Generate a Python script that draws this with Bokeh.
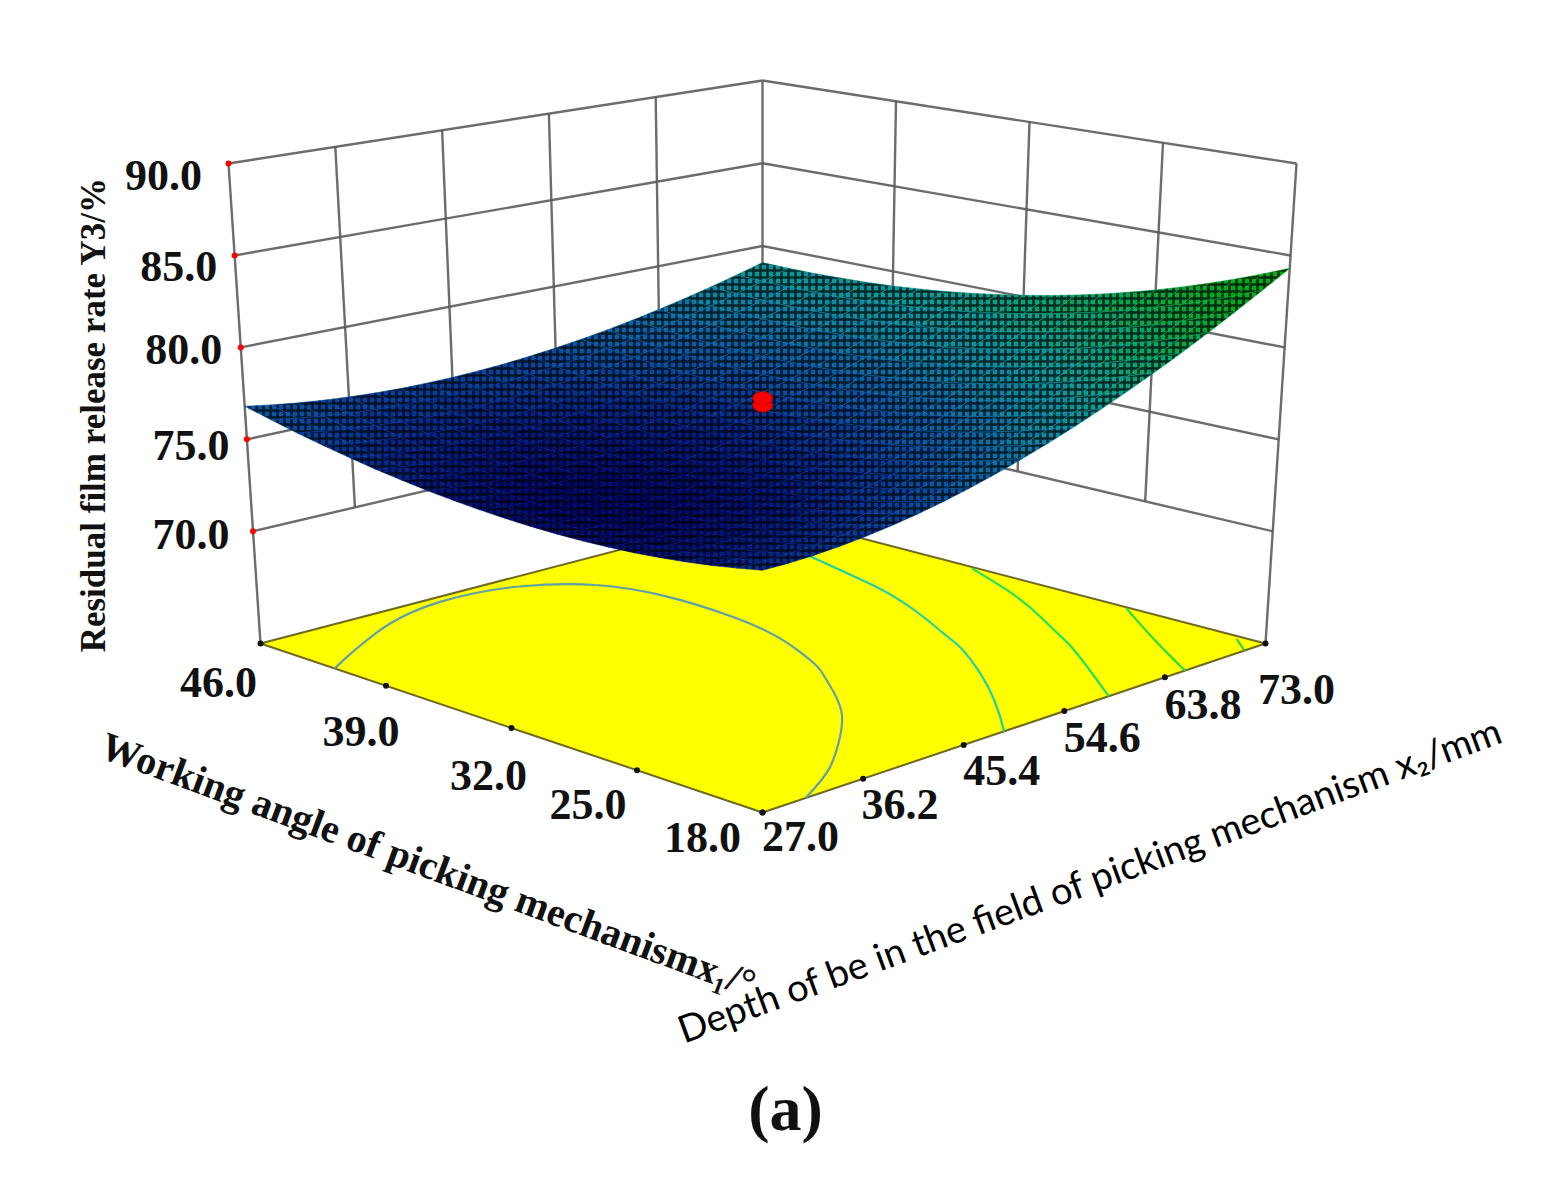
import numpy as np
from bokeh.core.properties import value
from bokeh.embed import file_html
from bokeh.models import ColumnDataSource, LinearColorMapper
from bokeh.plotting import figure
from bokeh.resources import INLINE

# ---- data ----
x1_ticks = [18.0, 25.0, 32.0, 39.0, 46.0]
x2_ticks = [27.0, 36.2, 45.4, 54.6, 63.8, 73.0]
z_ticks = [70.0, 75.0, 80.0, 85.0, 90.0]
x1_tick_labels = ["18.0", "25.0", "32.0", "39.0", "46.0"]
x2_tick_labels = ["27.0", "36.2", "45.4", "54.6", "63.8", "73.0"]
z_tick_labels = ["70.0", "75.0", "80.0", "85.0", "90.0"]
z_floor = 63.9

x1_grid = [18.0, 19.4, 20.8, 22.2, 23.6, 25.0, 26.4, 27.8, 29.2, 30.6, 32.0,
           33.4, 34.8, 36.2, 37.6, 39.0, 40.4, 41.8, 43.2, 44.6, 46.0]
x2_grid = [27.0, 29.3, 31.6, 33.9, 36.2, 38.5, 40.8, 43.1, 45.4, 47.7, 50.0,
           52.3, 54.6, 56.9, 59.2, 61.5, 63.8, 66.1, 68.4, 70.7, 73.0]

y3_row_00 = [75.50,75.50,75.55,75.65,75.79,75.98,76.21,76.49,76.82,77.19,77.61,78.07,78.58,79.14,79.74,80.38,81.07,81.81,82.60,83.43,84.30]
y3_row_01 = [75.27,75.25,75.29,75.37,75.49,75.67,75.88,76.15,76.45,76.81,77.21,77.66,78.15,78.69,79.27,79.90,80.58,81.30,82.07,82.88,83.74]
y3_row_02 = [75.06,75.04,75.05,75.12,75.23,75.38,75.58,75.83,76.13,76.46,76.85,77.28,77.75,78.27,78.84,79.45,80.11,80.82,81.57,82.36,83.20]
y3_row_03 = [74.89,74.85,74.85,74.90,74.99,75.13,75.32,75.55,75.82,76.15,76.51,76.93,77.39,77.89,78.44,79.04,79.68,80.37,81.10,81.88,82.70]
y3_row_04 = [74.75,74.69,74.68,74.72,74.79,74.92,75.09,75.30,75.56,75.87,76.22,76.62,77.06,77.55,78.08,78.66,79.28,79.95,80.67,81.43,82.23]
y3_row_05 = [74.64,74.57,74.55,74.56,74.63,74.74,74.89,75.09,75.33,75.62,75.96,76.34,76.76,77.23,77.75,78.31,78.91,79.56,80.26,81.00,81.79]
y3_row_06 = [74.57,74.48,74.44,74.45,74.50,74.59,74.73,74.91,75.14,75.42,75.74,76.10,76.51,76.96,77.46,78.00,78.59,79.22,79.90,80.62,81.39]
y3_row_07 = [74.52,74.42,74.37,74.36,74.40,74.48,74.60,74.77,74.98,75.24,75.54,75.89,76.28,76.72,77.20,77.72,78.29,78.91,79.56,80.27,81.01]
y3_row_08 = [74.51,74.40,74.33,74.31,74.33,74.39,74.50,74.66,74.85,75.10,75.38,75.71,76.09,76.51,76.97,77.48,78.03,78.62,79.26,79.95,80.67]
y3_row_09 = [74.53,74.40,74.32,74.29,74.29,74.35,74.44,74.58,74.76,74.99,75.26,75.57,75.93,76.33,76.77,77.26,77.79,78.37,78.99,79.65,80.36]
y3_row_10 = [74.58,74.44,74.35,74.30,74.30,74.33,74.41,74.54,74.70,74.91,75.17,75.47,75.81,76.19,76.62,77.09,77.60,78.15,78.75,79.39,80.08]
y3_row_11 = [74.66,74.51,74.41,74.35,74.33,74.35,74.42,74.53,74.68,74.88,75.11,75.39,75.71,76.08,76.49,76.94,77.43,77.97,78.54,79.17,79.83]
y3_row_12 = [74.77,74.61,74.50,74.42,74.39,74.40,74.46,74.55,74.69,74.87,75.09,75.35,75.66,76.00,76.39,76.82,77.30,77.81,78.37,78.97,79.61]
y3_row_13 = [74.91,74.75,74.62,74.54,74.49,74.49,74.53,74.61,74.73,74.90,75.10,75.35,75.64,75.97,76.34,76.75,77.20,77.70,78.23,78.81,79.42]
y3_row_14 = [75.09,74.91,74.78,74.68,74.63,74.61,74.64,74.71,74.81,74.96,75.15,75.38,75.65,75.96,76.31,76.70,77.13,77.61,78.12,78.67,79.27]
y3_row_15 = [75.29,75.11,74.96,74.86,74.79,74.77,74.78,74.83,74.93,75.06,75.23,75.44,75.70,75.99,76.32,76.69,77.10,77.55,78.04,78.57,79.14]
y3_row_16 = [75.53,75.34,75.18,75.06,74.99,74.95,74.95,74.99,75.07,75.19,75.34,75.54,75.77,76.05,76.36,76.71,77.10,77.53,78.00,78.50,79.05]
y3_row_17 = [75.80,75.60,75.44,75.31,75.22,75.17,75.16,75.19,75.25,75.36,75.50,75.68,75.89,76.15,76.44,76.77,77.14,77.55,77.99,78.48,79.00]
y3_row_18 = [76.10,75.89,75.72,75.59,75.49,75.43,75.40,75.42,75.47,75.56,75.68,75.84,76.04,76.28,76.55,76.86,77.21,77.59,78.01,78.47,78.96]
y3_row_19 = [76.44,76.22,76.04,75.90,75.79,75.72,75.68,75.68,75.72,75.79,75.90,76.04,76.22,76.44,76.69,76.98,77.31,77.67,78.07,78.50,78.97]
y3_row_20 = [76.80,76.58,76.39,76.24,76.12,76.04,75.99,75.98,76.00,76.06,76.15,76.28,76.44,76.64,76.87,77.14,77.44,77.78,78.15,78.56,79.00]
y3_rows = [y3_row_00, y3_row_01, y3_row_02, y3_row_03, y3_row_04, y3_row_05, y3_row_06,
           y3_row_07, y3_row_08, y3_row_09, y3_row_10, y3_row_11, y3_row_12, y3_row_13,
           y3_row_14, y3_row_15, y3_row_16, y3_row_17, y3_row_18, y3_row_19, y3_row_20]

center_point_x1 = [32.0]
center_point_x2 = [50.0]
center_point_y3 = [77.5]

contour_1_x1 = [41.86, 43.06, 45.33, 45.64, 44.24, 41.94, 38.52, 33.88, 29.54, 27.97, 25.53, 23.61, 20.90, 19.18, 18.0]
contour_1_x2 = [27.0, 30.63, 38.91, 46.32, 51.70, 54.14, 54.69, 53.82, 50.83, 49.10, 46.32, 43.63, 38.50, 34.68, 30.93]
contour_2_x1 = [40.23, 37.49, 34.52, 31.27, 28.70, 26.46, 21.25, 18.0]
contour_2_x2 = [67.71, 66.56, 65.36, 63.20, 61.09, 59.43, 53.68, 49.10]
contour_3_x1 = [34.21, 31.33, 28.58, 25.70, 23.12, 18.0]
contour_3_x2 = [72.77, 71.02, 68.95, 66.33, 64.12, 58.65]
contour_4_x1 = [25.64, 23.32, 20.45, 18.0]
contour_4_x2 = [72.82, 70.52, 67.80, 65.64]
contour_5_x1 = [19.32, 18.0]
contour_5_x2 = [72.54, 71.07]

# ---- projection of the 3D box on the page ----
FLOOR_X = {"F": 762, "L": 260, "R": 1265, "B": 762}
FLOOR_Y = {"F": 812, "L": 643, "R": 643, "B": 512}
TOP_X = {"F": 762, "L": 228, "R": 1296, "B": 762}
TOP_Y = {"F": 267, "L": 163, "R": 163, "B": 80}


def corner_mix(c, u, v):
    return (1 - u) * (1 - v) * c["F"] + u * (1 - v) * c["L"] + (1 - u) * v * c["R"] + u * v * c["B"]


def project(x1, x2, z):
    x1, x2, z = np.asarray(x1, float), np.asarray(x2, float), np.asarray(z, float)
    u = (x1 - x1_ticks[0]) / (x1_ticks[-1] - x1_ticks[0])
    v = (x2 - x2_ticks[0]) / (x2_ticks[-1] - x2_ticks[0])
    w = (z - z_floor) / (z_ticks[-1] - z_floor)
    px = (1 - w) * corner_mix(FLOOR_X, u, v) + w * corner_mix(TOP_X, u, v)
    py = (1 - w) * corner_mix(FLOOR_Y, u, v) + w * corner_mix(TOP_Y, u, v)
    return px, py


p = figure(width=1550, height=1172, x_range=(0, 1550), y_range=(1172, 0),
           output_backend="svg", toolbar_location=None, min_border=0,
           background_fill_color="white", border_fill_color="white", outline_line_color=None)
p.axis.visible = False
p.grid.visible = False

WALL = dict(line_color="#5c5c5c", line_width=2.4, line_alpha=0.9)
x1a, x1b = x1_ticks[0], x1_ticks[-1]
x2a, x2b = x2_ticks[0], x2_ticks[-1]
xs, ys = [], []


def wall(a, b):
    px, py = project([a[0], b[0]], [a[1], b[1]], [a[2], b[2]])
    xs.append(list(px))
    ys.append(list(py))


for t in x2_ticks:
    wall((x1b, t, z_floor if t in (x2a, x2b) else z_ticks[0]), (x1b, t, z_ticks[-1]))
for t in x1_ticks[:-1]:
    wall((t, x2b, z_floor if t == x1a else z_ticks[0]), (t, x2b, z_ticks[-1]))
for z in z_ticks:
    wall((x1b, x2a, z), (x1b, x2b, z))
    wall((x1b, x2b, z), (x1a, x2b, z))
p.multi_line(xs, ys, **WALL)

# floor
fx, fy = project([x1a, x1b, x1b, x1a], [x2a, x2a, x2b, x2b], [z_floor] * 4)
p.patch(list(fx), list(fy), fill_color="#ffff00", line_color="#6e6a20", line_width=2)

contours = [(contour_1_x1, contour_1_x2, "#5f9fa8"), (contour_2_x1, contour_2_x2, "#25d0a0"),
            (contour_3_x1, contour_3_x2, "#22e060"), (contour_4_x1, contour_4_x2, "#22e040"),
            (contour_5_x1, contour_5_x2, "#30d040")]
for cx1, cx2, col in contours:
    cx, cy = project(cx1, cx2, [z_floor] * len(cx1))
    # read points act as control points of quadratic curves, so the contour stays smooth
    mx = (cx[:-1] + cx[1:]) / 2
    my = (cy[:-1] + cy[1:]) / 2
    x0 = np.r_[cx[0], mx[1:-1]] if len(cx) > 2 else cx[:1]
    y0 = np.r_[cy[0], my[1:-1]] if len(cx) > 2 else cy[:1]
    x1_end = np.r_[mx[1:-1], cx[-1]] if len(cx) > 2 else cx[1:]
    y1_end = np.r_[my[1:-1], cy[-1]] if len(cx) > 2 else cy[1:]
    ctrl_x = cx[1:-1] if len(cx) > 2 else mx
    ctrl_y = cy[1:-1] if len(cx) > 2 else my
    p.quadratic(x0=list(x0), y0=list(y0), x1=list(x1_end), y1=list(y1_end), cx=list(ctrl_x), cy=list(ctrl_y),
                line_color=col, line_width=2.2)

# surface
stops_z = [74.3, 75.0, 76.0, 77.0, 78.0, 79.0, 80.0, 81.0, 82.0, 83.0, 84.3]
stops_rgb = np.array([(0x00, 0x08, 0x70), (0x02, 0x20, 0x88), (0x07, 0x48, 0xa0), (0x0a, 0x68, 0xa8),
                      (0x0b, 0x88, 0xa4), (0x0a, 0x9c, 0x98), (0x0a, 0xa2, 0x78), (0x08, 0xa6, 0x58),
                      (0x06, 0xa8, 0x38), (0x04, 0xaa, 0x22), (0x03, 0xac, 0x10)], float)
zz = np.linspace(stops_z[0], stops_z[-1], 128)
palette = ["#%02x%02x%02x" % tuple(int(np.interp(q, stops_z, stops_rgb[:, k])) for k in range(3)) for q in zz]
mapper = LinearColorMapper(palette=palette, low=stops_z[0], high=stops_z[-1])

cell_x, cell_y, cell_z = [], [], []
for i in range(len(x1_grid) - 2, -1, -1):
    for j in range(len(x2_grid) - 2, -1, -1):
        qx1 = [x1_grid[i], x1_grid[i + 1], x1_grid[i + 1], x1_grid[i]]
        qx2 = [x2_grid[j], x2_grid[j], x2_grid[j + 1], x2_grid[j + 1]]
        qz = [y3_rows[i][j], y3_rows[i + 1][j], y3_rows[i + 1][j + 1], y3_rows[i][j + 1]]
        px, py = project(qx1, qx2, qz)
        cell_x.append(list(px))
        cell_y.append(list(py))
        cell_z.append(sum(qz) / 4)
src = ColumnDataSource(dict(xs=cell_x, ys=cell_y, z=cell_z))
cmap = {"field": "z", "transform": mapper}
p.patches("xs", "ys", source=src, fill_color=cmap, line_color=cmap, line_width=0.6,
          hatch_pattern="cross", hatch_color="#000000", hatch_alpha=0.72, hatch_scale=7, hatch_weight=2.6)

# centre design point
dx, dy = project(center_point_x1, center_point_x2, center_point_y3)
p.ellipse(dx, dy + 4.5, width=20, height=14, fill_color="#ff0000", line_color="#a80000", line_width=1)
p.ellipse(dx, dy - 2.5, width=20, height=13, fill_color="#ff0000", line_color="#b00000", line_width=1)

# tick marks
zx, zy = project([x1b] * len(z_ticks), [x2a] * len(z_ticks), z_ticks)
p.scatter(zx, zy, size=6, marker="circle", fill_color="#ff0000", line_color=None)
tx, ty = project(x1_ticks, [x2a] * len(x1_ticks), [z_floor] * len(x1_ticks))
p.scatter(tx, ty, size=6, marker="circle", fill_color="#111111", line_color=None)
tx2, ty2 = project([x1a] * len(x2_ticks), x2_ticks, [z_floor] * len(x2_ticks))
p.scatter(tx2, ty2, size=6, marker="circle", fill_color="#111111", line_color=None)

# tick labels, placed by offset from their ticks
SERIF = value("Liberation Serif")
TICK = dict(text_font=SERIF, text_font_size="44px", text_font_style="bold", text_color="#111111",
            text_align="center", text_baseline="middle")
x1_off = [(-60, 25), (-49, 34), (-23, 47), (-25, 46), (-42, 39)]
x2_off = [(38, 24), (37, 26), (38, 26), (38, 26), (38, 27), (31, 46)]
z_off = [(-62, 3), (-56, 6), (-57, 2), (-56, 11), (-65, 12)]
p.text([a + o[0] for a, o in zip(tx, x1_off)], [b + o[1] for b, o in zip(ty, x1_off)], text=x1_tick_labels, **TICK)
p.text([a + o[0] for a, o in zip(tx2, x2_off)], [b + o[1] for b, o in zip(ty2, x2_off)], text=x2_tick_labels, **TICK)
p.text([a + o[0] for a, o in zip(zx, z_off)], [b + o[1] for b, o in zip(zy, z_off)], text=z_tick_labels, **TICK)

# titles
p.text([93], [414], text=["Residual film release rate Y3/%"], angle=np.pi / 2, text_font=SERIF,
       text_font_size="35px", text_font_style="bold", text_color="#111111", text_align="center", text_baseline="middle")
p.text([428], [864], text=["Working angle of picking mechanismx\u2081/\u00b0"], angle=np.deg2rad(-20.3), text_font=SERIF,
       text_font_size="40px", text_font_style="bold", text_color="#111111", text_align="center", text_baseline="middle")
p.text([1089], [878], text=["Depth of be in the field of picking mechanism x\u2082/mm"], angle=np.deg2rad(20.2), text_font=value("Lato"),
       text_font_size="38px", text_color="#000000", text_align="center", text_baseline="middle")
p.text([785], [1108], text=["(a)"], text_font=SERIF, text_font_size="64px", text_font_style="bold",
       text_color="#111111", text_align="center", text_baseline="middle")

open("out.html", "w").write(file_html(p, INLINE))
